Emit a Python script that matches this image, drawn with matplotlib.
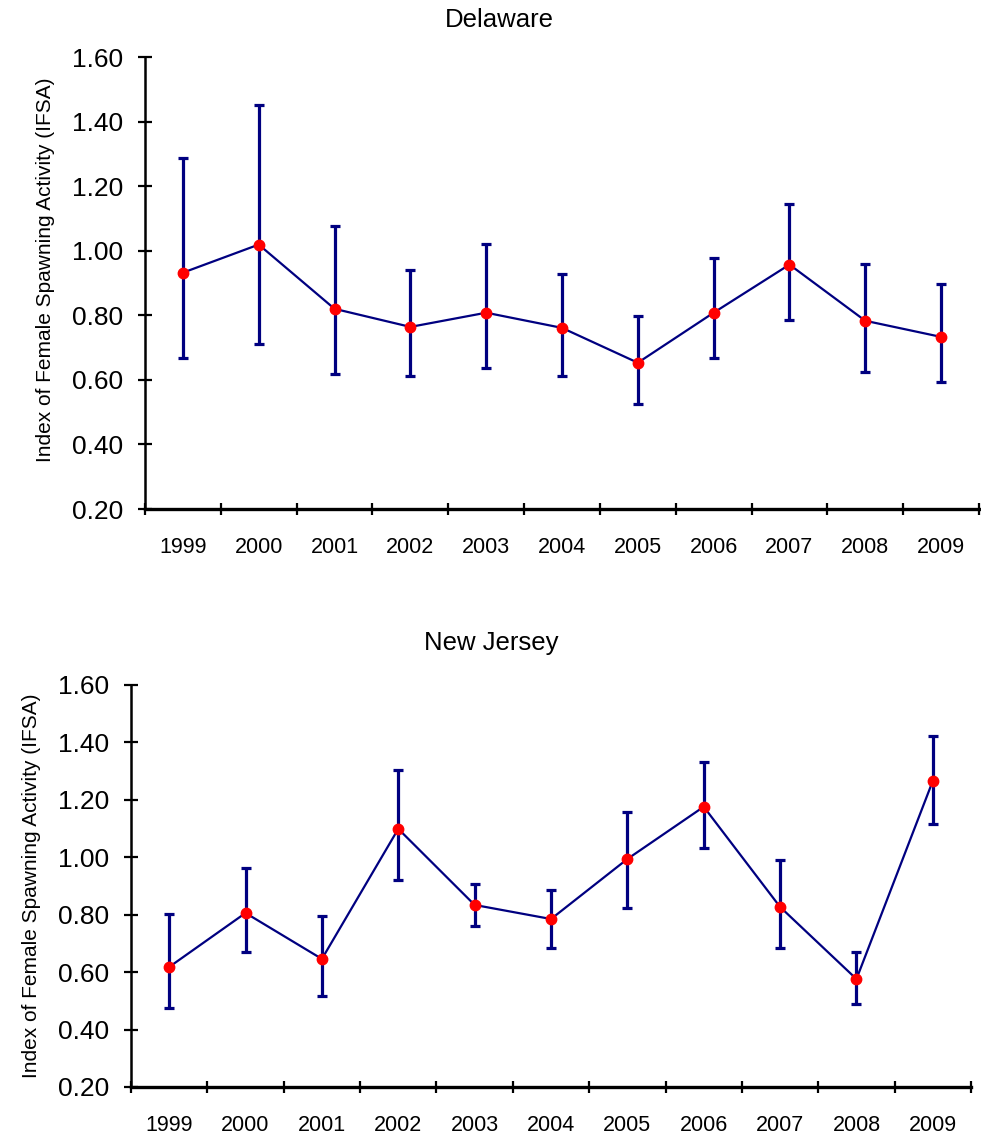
import matplotlib
matplotlib.use("Agg")
import matplotlib.pyplot as plt
import numpy as np

YEARS = ["1999", "2000", "2001", "2002", "2003", "2004", "2005", "2006", "2007", "2008", "2009"]

# Delaware: index value, upper and lower bound of the error bar
DE_VALUE = [0.932, 1.019, 0.820, 0.764, 0.808, 0.761, 0.653, 0.808, 0.957, 0.783, 0.733]
DE_UPPER = [1.288, 1.450, 1.078, 0.941, 1.022, 0.929, 0.798, 0.978, 1.146, 0.960, 0.898]
DE_LOWER = [0.668, 0.712, 0.619, 0.612, 0.637, 0.612, 0.526, 0.668, 0.786, 0.625, 0.594]

# New Jersey
NJ_VALUE = [0.618, 0.806, 0.646, 1.099, 0.834, 0.785, 0.994, 1.176, 0.827, 0.576, 1.266]
NJ_UPPER = [0.803, 0.963, 0.796, 1.305, 0.907, 0.886, 1.158, 1.332, 0.991, 0.670, 1.423]
NJ_LOWER = [0.475, 0.670, 0.517, 0.921, 0.761, 0.684, 0.824, 1.033, 0.684, 0.489, 1.116]

YLABEL = "Index of Female Spawning Activity (IFSA)"
NAVY = "#000080"

plt.rcParams.update({
    "font.family": ["Liberation Sans", "DejaVu Sans"],
    "axes.linewidth": 2.0,
})

W, H = 981, 1135
fig = plt.figure(figsize=(W / 100, H / 100), dpi=100)


def px_axes(left, top, right, bottom):
    return fig.add_axes([left / W, 1 - bottom / H, (right - left) / W, (bottom - top) / H])


def draw_panel(ax, value, upper, lower, label_y=0.5):
    x = np.arange(len(YEARS))
    v = np.array(value)
    err = [v - np.array(lower), np.array(upper) - v]
    ax.errorbar(x, v, yerr=err, fmt="none", ecolor=NAVY, elinewidth=2.3,
                capsize=3.8, capthick=2.3, zorder=2)
    ax.plot(x, v, color=NAVY, linewidth=1.6, zorder=3)
    ax.plot(x, v, linestyle="none", marker="o", markersize=7.5,
            markerfacecolor="#ff0000", markeredgecolor="#ff0000", zorder=4)

    ax.set_xlim(-0.5, len(YEARS) - 0.5)
    ax.set_ylim(0.2, 1.6)
    ticks = np.arange(0.2, 1.61, 0.2)
    ax.set_yticks(ticks)
    ax.set_yticklabels([f"{t:.2f}" for t in ticks])
    ax.set_xticks(x)
    ax.set_xticklabels(YEARS)
    ax.set_xticks(np.arange(-0.5, len(YEARS)), minor=True)
    ax.tick_params(axis="x", which="major", length=0, pad=20, labelsize=15.5)
    ax.tick_params(axis="x", which="minor", direction="inout", length=9, width=1.6)
    ax.tick_params(axis="y", direction="inout", length=10, width=1.6, pad=11, labelsize=19)
    for s in ("top", "right"):
        ax.spines[s].set_visible(False)
    ax.spines["left"].set_linewidth(1.8)
    ax.spines["bottom"].set_linewidth(2.4)
    ax.set_ylabel(YLABEL, fontsize=15, labelpad=12)
    ax.yaxis.label.set_y(label_y)


ax1 = px_axes(145, 57, 979, 509)
draw_panel(ax1, DE_VALUE, DE_UPPER, DE_LOWER, label_y=0.53)
fig.text(499 / W, 1 - 20 / H, "Delaware", ha="center", va="center", fontsize=18.5)

ax2 = px_axes(131, 685, 971, 1087)
draw_panel(ax2, NJ_VALUE, NJ_UPPER, NJ_LOWER)
fig.text(491 / W, 1 - 643 / H, "New Jersey", ha="center", va="center", fontsize=18.5)

fig.savefig("out.png", dpi=100, facecolor="white")
